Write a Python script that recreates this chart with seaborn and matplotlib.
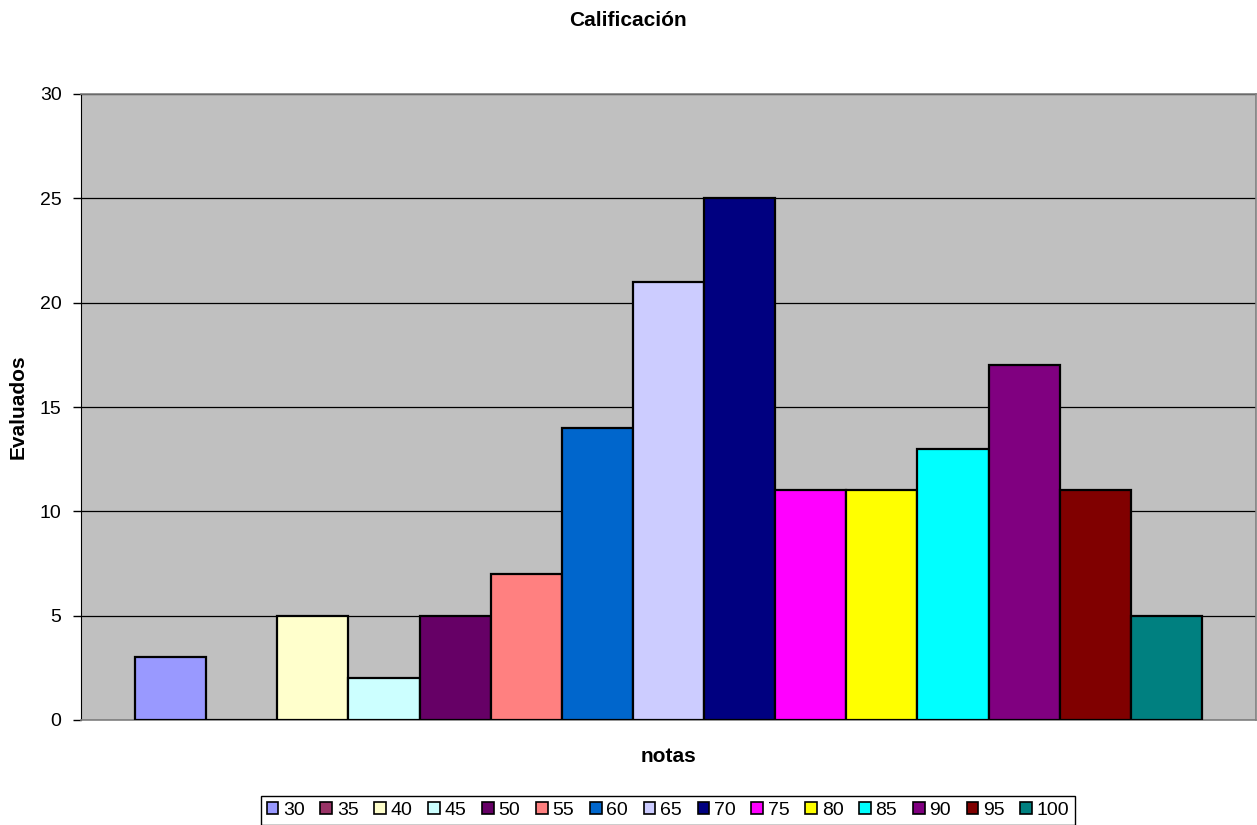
import pandas as pd
import matplotlib
matplotlib.use("Agg")
import matplotlib.pyplot as plt
import seaborn as sns
from matplotlib.patches import Patch

# notas y cantidad de evaluados
notas = ['30', '35', '40', '45', '50', '55', '60', '65', '70', '75', '80', '85', '90', '95', '100']
evaluados = [3, 0, 5, 2, 5, 7, 14, 21, 25, 11, 11, 13, 17, 11, 5]
colores = ['#9999FF', '#993366', '#FFFFCC', '#CCFFFF', '#660066', '#FF8080', '#0066CC',
           '#CCCCFF', '#000080', '#FF00FF', '#FFFF00', '#00FFFF', '#800080', '#800000', '#008080']

df = pd.DataFrame({'nota': notas, 'evaluados': evaluados})
paleta = dict(zip(notas, colores))

sns.set_style("white")
plt.rcParams['font.family'] = ['Liberation Sans', 'DejaVu Sans']
plt.rcParams['text.color'] = 'black'
plt.rcParams['ytick.color'] = 'black'
plt.rcParams['ytick.labelcolor'] = 'black'

fig = plt.figure(figsize=(12.57, 8.25), dpi=100)
ax = fig.add_axes([81 / 1257, 1 - 720 / 825, 1175 / 1257, (720 - 94) / 825])

sns.barplot(data=df, x='nota', y='evaluados', hue='nota', palette=paleta,
            order=notas, hue_order=notas, dodge=False, width=1.0, saturation=1,
            edgecolor='black', linewidth=1.6, legend=False, ax=ax, zorder=3)

ax.set_facecolor('#C0C0C0')
ax.set_ylim(0, 30)
ax.set_xlim(-1.26, len(notas) - 0.5 + 0.76)
ax.set_yticks([0, 5, 10, 15, 20, 25, 30])
ax.yaxis.grid(True, color='black', linewidth=0.9, zorder=0)
ax.set_axisbelow(True)
ax.set_xticks([])
ax.set_xlabel('')
ax.set_ylabel('')
ax.tick_params(axis='y', labelsize=14, length=6, width=1, color='black',
               labelcolor='black', direction='out', left=True, pad=8)

for lado in ['top', 'right', 'bottom']:
    ax.spines[lado].set_color('#808080')
    ax.spines[lado].set_linewidth(1.2)
ax.spines['left'].set_color('black')

fig.text(628 / 1257, 1 - 21 / 825, 'Calificación', ha='center', va='center',
         fontsize=15, fontweight='bold', color='black')
fig.text(669 / 1257, 1 - 756 / 825, 'notas', ha='center', va='center',
         fontsize=15, fontweight='bold', color='black')
fig.text(18 / 1257, 1 - 407 / 825, 'Evaluados', ha='center', va='center',
         rotation=90, fontsize=15, fontweight='bold', color='black')

handles = [Patch(facecolor=c, edgecolor='black', linewidth=1.2) for c in colores]
leg = fig.legend(handles, notas, loc='lower center', bbox_to_anchor=(668 / 1257, 0.0),
                 ncol=len(notas), fontsize=14, frameon=True, fancybox=False,
                 edgecolor='black', framealpha=1, handlelength=0.6, handleheight=0.6,
                 handletextpad=0.25, columnspacing=0.8, borderpad=0.3, borderaxespad=0)
for t in leg.get_texts():
    t.set_color('black')

fig.savefig('out.png', dpi=100)
